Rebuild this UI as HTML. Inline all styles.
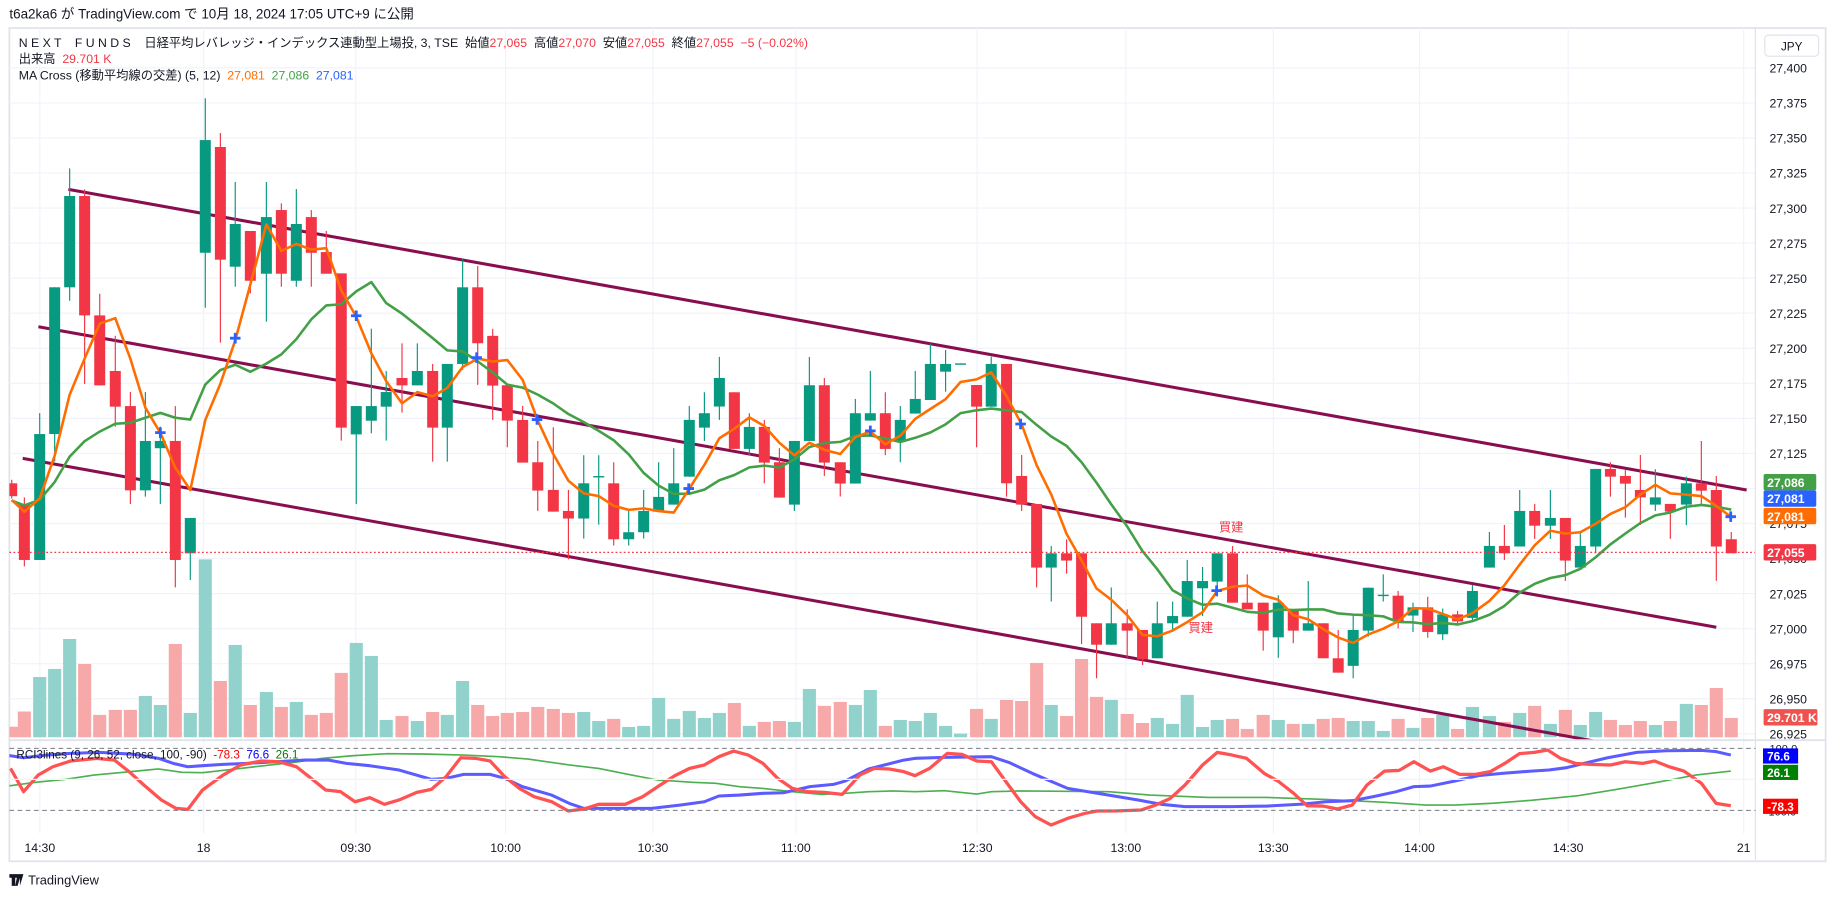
<!DOCTYPE html>
<html><head><meta charset="utf-8">
<style>
html,body{margin:0;padding:0;background:#fff;width:1835px;height:897px;overflow:hidden}
svg{display:block}
text{font-family:"Liberation Sans","Noto Sans CJK JP",sans-serif}
</style></head>
<body>
<svg id="s" width="1835" height="897" viewBox="0 0 1568 766.5" xmlns="http://www.w3.org/2000/svg">
<defs>
<clipPath id="cm"><rect x="8" y="24" width="1492" height="608"/></clipPath>
<clipPath id="cr"><rect x="8" y="633" width="1492" height="80"/></clipPath>
</defs>
<rect x="0" y="0" width="1568" height="766.5" fill="#fff"/>
<text x="8" y="16" font-size="11.5" fill="#131722">t6a2ka6 が TradingView.com で 10月 18, 2024 17:05 UTC+9 に公開</text>
<rect x="8" y="24" width="1552" height="712" fill="none" stroke="#e0e3eb" stroke-width="1.5"/>
<g id="grid"></g>
<g id="vol" clip-path="url(#cm)"></g>
<g id="trend" clip-path="url(#cm)"></g>
<g id="cand" clip-path="url(#cm)"></g>
<g id="ma" clip-path="url(#cm)"></g>
<g id="rci" clip-path="url(#cr)"></g>
<g id="lab"></g>
<line x1="8" y1="472" x2="1500" y2="472" stroke="#f23645" stroke-width="1" stroke-dasharray="1.5,2"/>
<line x1="8" y1="632.5" x2="1560" y2="632.5" stroke="#e0e3eb" stroke-width="1.5"/>
<line x1="1500" y1="24" x2="1500" y2="736" stroke="#e0e3eb" stroke-width="1"/>
<line x1="8" y1="639.5" x2="1500" y2="639.5" stroke="#787b86" stroke-width="0.8" stroke-dasharray="4,3"/>
<line x1="8" y1="692.5" x2="1500" y2="692.5" stroke="#787b86" stroke-width="0.8" stroke-dasharray="4,3"/>
<line x1="8" y1="666" x2="1500" y2="666" stroke="#f0f3fa" stroke-width="1"/>
<text x="16" y="40" font-size="10.5" fill="#131722" xml:space="preserve">N E X T    F U N D S    日経平均レバレッジ・インデックス連動型上場投, 3, TSE  始値<tspan fill="#f23645">27,065</tspan>  高値<tspan fill="#f23645">27,070</tspan>  安値<tspan fill="#f23645">27,055</tspan>  終値<tspan fill="#f23645">27,055  −5 (−0.02%)</tspan></text>
<text x="16" y="54" font-size="10.5" fill="#131722" xml:space="preserve">出来高  <tspan fill="#f23645">29.701 K</tspan></text>
<text x="16" y="68" font-size="10.5" fill="#131722" xml:space="preserve">MA Cross (移動平均線の交差) (5, 12)  <tspan fill="#ff6d00">27,081</tspan>  <tspan fill="#43a047">27,086</tspan>  <tspan fill="#2962ff">27,081</tspan></text>
<text x="14" y="648" font-size="10" fill="#131722" xml:space="preserve">RCI3lines (9, 26, 52, close, 100, -90)  <tspan fill="#ff0000">-78.3</tspan>  <tspan fill="#0000ff">76.6</tspan>  <tspan fill="#008000">26.1</tspan></text>
<rect x="1508" y="30" width="46" height="18" rx="3" fill="#fff" stroke="#e0e3eb"/>
<text x="1531" y="43" font-size="10" fill="#131722" text-anchor="middle">JPY</text>
<text x="1052" y="454" font-size="10.5" fill="#f23645" text-anchor="middle">買建</text>
<text x="1026" y="540" font-size="10.5" fill="#f23645" text-anchor="middle">買建</text>
<g transform="translate(8,746)"><path d="M0 1h7v3H5v7H2V4H0z M7 1h3l-3 10H5z M9 1h3l-3 10z" fill="#131722"/></g>
<text x="24" y="756" font-size="11" fill="#131722">TradingView</text>
</svg>
<script>
const NS="http://www.w3.org/2000/svg";
function el(p,t,a,txt){const e=document.createElementNS(NS,t);for(const k in a)e.setAttribute(k,a[k]);if(txt!==undefined)e.textContent=txt;document.getElementById(p).appendChild(e);return e;}
// grid
const py=p=>58+(27400-p)/25*29.95;
for(let p=27400;p>=26925;p-=25){const y=py(p);el("grid","line",{x1:8,x2:1500,y1:y,y2:y,stroke:"#f0f3fa","stroke-width":1});
 el("lab","text",{x:1512,y:y+4,"font-size":10.5,fill:"#131722"},(p/1000|0)+","+String(p%1000).padStart(3,"0"));}
const times=[[34,"14:30"],[174,"18"],[304,"09:30"],[432,"10:00"],[558,"10:30"],[680,"11:00"],[835,"12:30"],[962,"13:00"],[1088,"13:30"],[1213,"14:00"],[1340,"14:30"],[1490,"21"]];
times.forEach(([x,t])=>{el("grid","line",{x1:x,x2:x,y1:24,y2:712,stroke:"#f0f3fa","stroke-width":1});
 el("lab","text",{x:x,y:728,"font-size":10.5,fill:"#131722","text-anchor":"middle"},t);});
el("lab","text",{x:1512,y:643,"font-size":9.5,fill:"#131722"},"100.0");
el("lab","text",{x:1508,y:697,"font-size":9.5,fill:"#131722"},"-100.0");
// candles [x,c,bt,bb,wt,wb,vt]
const C=[[10,'r',413,424,410,426,621],[20.8,'r',430.7,478.5,425,484,608],[33.9,'g',370.9,478.5,353,478.5,578.5],[46.7,'g',245.5,370.9,245.5,394.5,571.6],[59.5,'g',167.5,245.5,143.9,257,546],[72.3,'r',167.5,269.5,161.8,328,567.4],[85.2,'r',269.5,329.3,251,329.3,610.9],[98.5,'r',317,347.5,287,364.6,606.6],[111.4,'r',347,419,335,430.7,606.6],[124.2,'g',376.8,419,335,424.4,594.7],[137,'g',376.8,383,364.6,430.7,602.4],[149.8,'r',376.8,478.5,347,501.9,550.3],[162.6,'g',442.6,472.8,442.6,495.6,609.2],[175.4,'g',119.7,216,84,263,478],[188.3,'r',125.6,221.9,113.7,292.8,581.9],[201,'g',191.4,227.9,155.5,245,551.1],[213.9,'r',197.4,239.9,197.4,250.7,602.4],[227.6,'g',185.5,233.9,155.5,274.9,591.3],[240.4,'r',179.5,233.9,173.8,245,604.1],[253.2,'g',191.4,239.9,161.5,245,599.8],[266,'r',185.5,216,179.5,245,610.9],[278.8,'r',215.4,233.9,197.4,233.9,609.2],[291.6,'r',233.6,365.4,233.6,376.5,575],[304.4,'g',347,371.2,347,430.7,549.4],[317.3,'g',347,359.5,280.9,370.3,560.5],[330,'g',335,347.5,317,376.5,615.2],[343.5,'r',323,329.3,293.4,352.6,611.8],[356.6,'g',317,329.3,293.4,329.3,616.1],[369.7,'r',317,365.4,311,394.5,608.4],[382.2,'g',311,365.4,311,394.5,610.9],[395.3,'g',245.5,311,221.6,316,581.9],[408.2,'r',245.5,293.3,227.3,328.9,602.4],[421,'r',287,329.5,281,358.8,611.8],[433.5,'r',329.2,359.4,329.2,382.2,609.2],[446.6,'r',358.8,395.3,346.9,395.3,608.4],[459.5,'r',395,419.2,376.8,436.6,604.1],[472.8,'r',418.6,437.2,365.1,437.2,605.8],[485.7,'r',436.6,443.1,418.6,477.9,609.2],[498.8,'g',413,443.1,389,460.2,608.4],[511.6,'g',406.8,407.8,389,448.3,616.1],[524.4,'r',413,460.8,395,466.2,614.3],[537.2,'g',454.8,460.8,436.6,466.2,621.2],[550,'g',436.6,454.8,418.6,460.2,620.3],[562.8,'g',424.6,437.2,395,437.2,596.4],[575.7,'g',413,431.2,383,431.2,614.3],[589,'g',358.8,407.3,346.9,407.3,607.5],[601.9,'g',353.1,365.4,335.2,376.8,613.5],[614.7,'g',323,347.4,305,358.8,609.2],[627.5,'r',335.2,383.6,335.2,383.6,600.7],[640.3,'g',364.8,383.6,353.1,389,620.3],[653.1,'r',364.8,395.3,358.8,413,616.9],[666,'r',395,425.2,383,425.2,616.1],[678.8,'g',376.8,431.2,376.8,436.6,616.9],[691.6,'g',329.2,376.8,305,376.8,588.7],[704.4,'r',329.2,395.3,323,406.7,603.2],[718,'r',395,413.2,395,424.3,599.8],[730.9,'g',353.1,413.2,340.9,413.2,602.4],[743.7,'g',353.1,359.4,317,359.4,589.6],[756.5,'r',353.1,383.6,335.2,389,620.3],[769.3,'g',358.8,377.3,346.9,395,615.2],[782.1,'g',340.9,353.4,317,353.4,616.1],[795,'g',311,341.8,293.4,341.8,609.2],[808,'g',311,317.6,299,334.7,620.3],[820.8,'g',310.5,311.5,310.5,311.5,626.9],[834.5,'r',329,347.5,329,382.2,605.8],[847,'g',311,347.5,304.8,347.5,614.3],[860.1,'r',311,413,311,424.4,598.1],[873,'r',406.7,431.2,388.8,436.6,599],[885.8,'r',430.7,485,430.7,502,566.5],[898.3,'g',472.8,485,466.6,514,602.4],[911.4,'r',472.8,479,460.9,490.2,611.8],[924.2,'r',472.8,527,472.8,550.3,563.1],[937,'r',532.6,550.9,532.6,579.6,595.5],[949.6,'g',532.6,550.9,502,550.9,598.1],[963.2,'r',532.6,538.9,520.7,561.7,610.1],[976.3,'r',538.3,563.4,538.3,568.2,617.8],[988.9,'g',532.6,562.5,514.1,562.5,613.5],[1002,'g',526.4,532.6,514.1,538.3,618.6],[1014.5,'g',496.5,527,478.5,527,593.8],[1027.6,'g',496.5,502.7,484.5,526.4,621.2],[1040.1,'g',472.8,497,472.8,509.8,615.2],[1053.2,'r',472.8,515,466.6,515,614.3],[1065.8,'r',515,520.7,490.8,520.7,622.9],[1079.4,'r',515,538.9,515,556,610.9],[1092.3,'g',515,544.6,508.7,562.2,615.2],[1105.1,'r',520.7,538.9,520.7,549.7,618.6],[1117.9,'g',532.6,538.9,496.5,538.9,618.6],[1130.7,'r',532.6,562.5,532.6,562.5,614.3],[1143.5,'r',562.5,574.8,538.3,574.8,613.5],[1156.3,'g',538.3,569,525.8,579.6,616.1],[1169.2,'g',502.2,538.9,502.2,544,616.1],[1182,'g',508.2,509.2,490.8,514,624.6],[1194.7,'r',509,531,505,537,614.3],[1207.4,'g',519,526,515,540,622],[1220,'r',519,540,510,545,613.5],[1232.8,'g',525,542,520,547,610.9],[1245.5,'r',525,531,522,534,622.9],[1258.2,'g',505,528,500,530,604.1],[1272.7,'g',466.5,485,454.6,485,611.8],[1285.5,'r',466.5,472.8,448.6,478.5,616.9],[1298.6,'g',436.6,467,418.7,467,609.2],[1311.4,'r',436.6,449.2,430.6,460.5,603.2],[1324.8,'g',442.6,449.2,418.7,460.5,618.6],[1337.6,'r',442.6,479,442.6,496.4,606.6],[1350.4,'g',466.5,485,454.6,485,619.5],[1363.5,'g',400.7,467,400.7,472.8,608.4],[1376.1,'r',400.7,407.3,395,424.4,615.2],[1388.9,'r',406.7,413.3,401,442.3,619.5],[1401.7,'r',418.7,425,388.8,448.6,616.1],[1414.5,'g',425,431.2,401,436.6,619.5],[1427.3,'r',430.6,437.2,430.6,460.5,616.1],[1441,'g',413,431.2,407.3,448.6,601.5],[1453.8,'r',413,419.3,376.8,430.6,602.4],[1466.6,'r',418.7,467,406.7,496.4,587.9],[1479.4,'r',460.8,472.8,454.6,472.8,613.5]];
C.forEach(c=>{const [x,k,bt,bb,wt,wb,vt]=c;
 el("vol","rect",{x:x-5.6,y:vt,width:11.2,height:Math.max(0,630-vt),fill:k=='g'?'#92d2cc':'#f7a9a9'});});
// trend lines
[[58.4,161.8,1492.5,418.7],[32.8,279.2,1466.6,536],[19.4,391.7,1500,658]].forEach(l=>el("trend","line",{x1:l[0],y1:l[1],x2:l[2],y2:l[3],stroke:"#880e4f","stroke-width":2.6}));
C.forEach(c=>{const [x,k,bt,bb,wt,wb]=c;const col=k=='g'?'#089981':'#f23645';
 el("cand","line",{x1:x,x2:x,y1:Math.min(wt,bt),y2:Math.max(wb,bb),stroke:col,"stroke-width":1});
 el("cand","rect",{x:x-4.7,y:bt,width:9.4,height:Math.max(1.2,bb-bt),fill:col});});
// MAs
const cl=C.map(c=>c[1]=='g'?c[2]:c[3]);
const pad=Array(11).fill(428).concat(cl);
function ma(n){return C.map((c,i)=>{let s=0;for(let j=0;j<n;j++)s+=pad[i+11-j];return [c[0],s/n];});}
const pts=a=>a.map(p=>p[0].toFixed(1)+","+p[1].toFixed(1)).join(" ");
el("ma","polyline",{points:pts(ma(12)),fill:"none",stroke:"#43a047","stroke-width":2.2,"stroke-linejoin":"round"});
el("ma","polyline",{points:pts(ma(5)),fill:"none",stroke:"#ff6d00","stroke-width":2.2,"stroke-linejoin":"round"});
[[137,369.7],[201,289],[304.4,269.8],[407.3,305.6],[458.9,358.5],[588.5,417.5],[743.7,368.2],[872.1,362.3],[1039.6,504.7],[1478.9,441.5]].forEach(p=>{
 el("ma","path",{d:`M${p[0]-4.5} ${p[1]}h9M${p[0]} ${p[1]-4.5}v9`,stroke:"#2962ff","stroke-width":2.4});});
// RCI
function cv(a,off){return a.map(p=>[(p[0]*0.5015+off),(p[1]*0.2848+628.1)]);}
const rR=cv([[18,100],[40,170],[65,120],[90,95],[120,78],[165,70],[195,75],[220,110],[245,150],[275,195],[300,220],[320,223],[345,165],[380,120],[410,90],[445,78],[475,80],[505,95],[530,130],[555,165],[580,170],[605,200],[630,188],[655,208],[680,195],[710,172],[735,163],[760,125],[785,68],[810,70],[835,78],[860,125],[885,160],[910,185],[940,200],[968,228],[995,222],[1020,208],[1065,208],[1095,185],[1125,150],[1150,122],[1175,100],[1200,90],[1225,65],[1250,48],[1275,60],[1300,85],[1325,130],[1350,160],[1375,170],[1405,172],[1435,178],[1465,120],[1490,100],[1515,102],[1540,110]],0).concat(cv([[0,122],[25,100],[55,55],[80,58],[105,78],[130,80],[155,140],[180,200],[205,245],[232,270],[260,250],[290,235],[310,228],[340,228],[385,225],[410,210],[435,190],[460,150],[490,90],[515,52],[540,60],[565,70],[595,115],[620,140],[645,175],[668,212],[695,213],[720,222],[745,210],[770,150],[800,108],[825,106],[850,80],[878,108],[900,95],[928,118],[955,118],[980,110],[1005,85],[1030,56],[1055,52],[1078,45],[1100,70],[1125,85],[1150,88],[1185,90],[1210,80],[1240,85],[1260,78],[1285,95],[1310,108],[1340,145],[1365,205],[1390,212]],781.9));
const rB=cv([[0,62],[18,62],[40,68],[80,60],[120,55],[170,52],[230,58],[270,70],[295,85],[320,95],[345,92],[380,88],[420,85],[470,80],[520,75],[560,75],[590,85],[630,92],[680,105],[735,133],[760,130],[790,118],[835,118],[860,130],[890,155],[940,180],[970,205],[995,220],[1040,220],[1110,220],[1160,210],[1200,200],[1225,183],[1260,180],[1300,175],[1335,173],[1380,155],[1420,148],[1440,138],[1480,102],[1540,75]],0).concat(cv([[0,70],[50,67],[130,65],[160,82],[200,115],[260,160],[330,180],[380,195],[420,208],[460,215],[540,215],[600,213],[660,207],[700,200],[745,197],[780,185],[820,170],[850,155],[878,153],[920,138],[960,122],[1000,115],[1050,108],[1080,105],[1110,98],[1140,85],[1180,68],[1230,52],[1280,47],[1340,46],[1365,50],[1390,60]],781.9));
const rG=cv([[0,152],[18,152],[60,142],[110,133],[160,120],[210,112],[270,102],[310,112],[345,113],[410,100],[450,92],[500,82],[550,70],[600,62],[660,56],[720,57],[790,60],[850,65],[900,72],[970,90],[1020,100],[1070,118],[1120,135],[1180,142],[1220,145],[1260,155],[1300,160],[1350,170],[1400,178],[1440,175],[1480,170],[1520,168]],0).concat(cv([[0,170],[50,167],[105,177],[130,170],[180,168],[330,170],[400,180],[500,187],[600,187],[700,193],[800,202],[870,210],[920,210],[980,205],[1050,196],[1130,182],[1200,162],[1270,140],[1330,120],[1390,108]],781.9));
el("rci","polyline",{points:pts(rG),fill:"none",stroke:"#4caf50","stroke-width":1.4});
el("rci","polyline",{points:pts(rB),fill:"none",stroke:"#5b5bff","stroke-width":2.6,"stroke-linejoin":"round"});
el("rci","polyline",{points:pts(rR),fill:"none",stroke:"#ff5252","stroke-width":2.8,"stroke-linejoin":"round"});
// right labels
function tag(y,bg,t,w){el("lab","rect",{x:1507,y:y-7,width:w||45,height:14,rx:1.5,fill:bg});el("lab","text",{x:1510,y:y+4,"font-size":10.5,fill:"#fff","font-weight":"bold"},t);}
tag(412,"#43a047","27,086");tag(426,"#2962ff","27,081");tag(441,"#ff6d00","27,081");tag(472,"#f23645","27,055");tag(613,"#ef5350","29.701 K",46);
function tag2(y,bg,t){el("lab","rect",{x:1506.5,y:y-6.5,width:30,height:13,fill:bg});el("lab","text",{x:1510,y:y+4,"font-size":10,fill:"#fff","font-weight":"bold"},t);}
tag2(646,"#0000ff","76.6");tag2(660,"#008000","26.1");tag2(689,"#ff0000","-78.3");
</script>
</body></html>
